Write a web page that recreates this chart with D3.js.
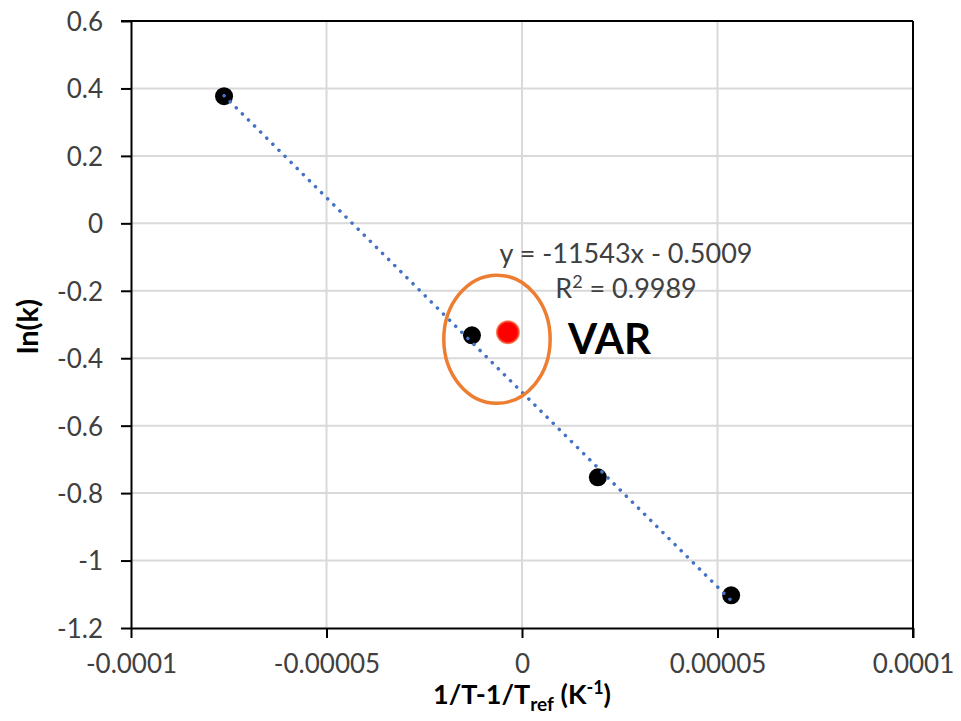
<!DOCTYPE html>
<html>
<head>
<meta charset="utf-8">
<script src="https://cdn.jsdelivr.net/npm/d3@7"></script>
<style>
  html, body { margin: 0; padding: 0; background: #fff; }
  svg { display: block; }
</style>
</head>
<body>
<svg id="chart" width="961" height="721"></svg>
<script>
// Arrhenius-style plot: ln(k) against 1/T - 1/Tref
const xValues = [-0.0000762, -0.0000128, 0.0000194, 0.0000535];
const yValues = [0.377, -0.332, -0.753, -1.103];
const varPoint = [-0.0000036, -0.323];
const fitSlope = -11543;
const fitIntercept = -0.5009;
const fitR2 = 0.9989;
const xTicks = [-0.0001, -0.00005, 0, 0.00005, 0.0001];
const xTickLabels = ["-0.0001", "-0.00005", "0", "0.00005", "0.0001"];
const yTicks = [-1.2, -1, -0.8, -0.6, -0.4, -0.2, 0, 0.2, 0.4, 0.6];
const yTickLabels = ["-1.2", "-1", "-0.8", "-0.6", "-0.4", "-0.2", "0", "0.2", "0.4", "0.6"];

const svg = d3.select("#chart");
const plotLeft = 131, plotRight = 913, plotTop = 21, plotBottom = 628;
const x = d3.scaleLinear().domain([-0.0001, 0.0001]).range([plotLeft, plotRight]);
const y = d3.scaleLinear().domain([-1.2, 0.6]).range([plotBottom, plotTop]);
const font = "Lato, 'Open Sans', sans-serif";

// gridlines
svg.append("g").selectAll("line").data(xTicks.slice(1)).join("line")
  .attr("x1", d => x(d)).attr("x2", d => x(d))
  .attr("y1", plotTop).attr("y2", plotBottom)
  .attr("stroke", "#d9d9d9").attr("stroke-width", 2);
svg.append("g").selectAll("line").data(yTicks.slice(1)).join("line")
  .attr("x1", plotLeft).attr("x2", plotRight)
  .attr("y1", d => y(d)).attr("y2", d => y(d))
  .attr("stroke", "#d9d9d9").attr("stroke-width", 2);

// axes
const xAxis = d3.axisBottom(x).tickValues(xTicks)
  .tickFormat((d, i) => xTickLabels[i]).tickSize(10).tickSizeOuter(0).tickPadding(17);
const yAxis = d3.axisLeft(y).tickValues(yTicks)
  .tickFormat((d, i) => yTickLabels[i]).tickSize(10).tickSizeOuter(0).tickPadding(18);

const gx = svg.append("g").attr("transform", `translate(0,${plotBottom})`).call(xAxis);
const gy = svg.append("g").attr("transform", `translate(${plotLeft},0)`).call(yAxis);
[gx, gy].forEach(g => {
  g.select(".domain").attr("stroke", "#000").attr("stroke-width", 2);
  g.selectAll(".tick line").attr("stroke", "#000").attr("stroke-width", 2);
  g.selectAll(".tick text").attr("fill", "#404040")
    .style("font-family", font).style("font-size", "26px");
});
gy.selectAll(".tick text").attr("dy", "0.36em");

// right and top frame lines
svg.append("line").attr("x1", plotRight).attr("x2", plotRight).attr("y1", plotTop).attr("y2", plotBottom + 10)
  .attr("stroke", "#000").attr("stroke-width", 2);
svg.append("line").attr("x1", plotLeft - 10).attr("x2", plotRight).attr("y1", plotTop).attr("y2", plotTop)
  .attr("stroke", "#000").attr("stroke-width", 2);

// axis titles
svg.append("text").attr("transform", `translate(38,${(plotTop + plotBottom) / 2 + 2}) rotate(-90)`)
  .attr("text-anchor", "middle")
  .style("font-family", font).style("font-size", "29px").style("font-weight", "bold")
  .attr("fill", "#000").text("ln(k)");

const xt = svg.append("text").attr("x", (plotLeft + plotRight) / 2).attr("y", 704)
  .attr("text-anchor", "middle")
  .style("font-family", font).style("font-size", "27px").style("font-weight", "bold")
  .attr("fill", "#000");
xt.append("tspan").text("1/T-1/T");
xt.append("tspan").attr("dy", 7).style("font-size", "19px").text("ref");
xt.append("tspan").attr("dy", -7).text(" (K");
xt.append("tspan").attr("dy", -10).style("font-size", "18px").text("-1");
xt.append("tspan").attr("dy", 10).text(")");

// measured points
svg.append("g").selectAll("circle").data(xValues).join("circle")
  .attr("cx", d => x(d)).attr("cy", (d, i) => y(yValues[i]))
  .attr("r", 9).attr("fill", "#000");

// linear trendline over data range
const x0 = d3.min(xValues), x1 = d3.max(xValues);
const nSteps = 40;
const linePts = d3.range(nSteps + 1).map(i => x0 + (x1 - x0) * i / nSteps);
svg.append("path")
  .datum(linePts)
  .attr("d", d3.line().x(d => x(d)).y(d => y(fitSlope * d + fitIntercept)))
  .attr("fill", "none").attr("stroke", "#4472c4").attr("stroke-width", 3.5)
  .attr("stroke-linecap", "round").attr("stroke-dasharray", "0.1 8.5");

// highlighted point
const defs = svg.append("defs");
const grad = defs.append("radialGradient").attr("id", "redGlow");
grad.append("stop").attr("offset", "0.78").attr("stop-color", "#ff0000");
grad.append("stop").attr("offset", "1").attr("stop-color", "#f4a070");
svg.append("circle").attr("cx", x(varPoint[0])).attr("cy", y(varPoint[1]))
  .attr("r", 12).attr("fill", "url(#redGlow)");

// ellipse around the pair
const ellCx = -0.0000064, ellCy = -0.3436, ellRx = 0.0000136, ellRy = 0.19;
svg.append("ellipse")
  .attr("cx", x(ellCx)).attr("cy", y(ellCy))
  .attr("rx", x(ellCx + ellRx) - x(ellCx)).attr("ry", y(ellCy) - y(ellCy + ellRy))
  .attr("fill", "none").attr("stroke", "#ed7d31").attr("stroke-width", 3.5);

// equation labels
svg.append("text").attr("x", 626).attr("y", 263).attr("text-anchor", "middle")
  .style("font-family", font).style("font-size", "27px").attr("fill", "#404040")
  .text(`y = ${fitSlope}x - ${Math.abs(fitIntercept).toFixed(4)}`);
const r2 = svg.append("text").attr("x", 626).attr("y", 298).attr("text-anchor", "middle")
  .style("font-family", font).style("font-size", "27px").attr("fill", "#404040");
r2.append("tspan").text("R");
r2.append("tspan").attr("dy", -10).style("font-size", "18px").text("2");
r2.append("tspan").attr("dy", 10).text(` = ${fitR2}`);

svg.append("text").attr("x", 568).attr("y", 354)
  .style("font-family", font).style("font-size", "42px").style("font-weight", "bold")
  .attr("fill", "#000").text("VAR");
</script>
</body>
</html>
